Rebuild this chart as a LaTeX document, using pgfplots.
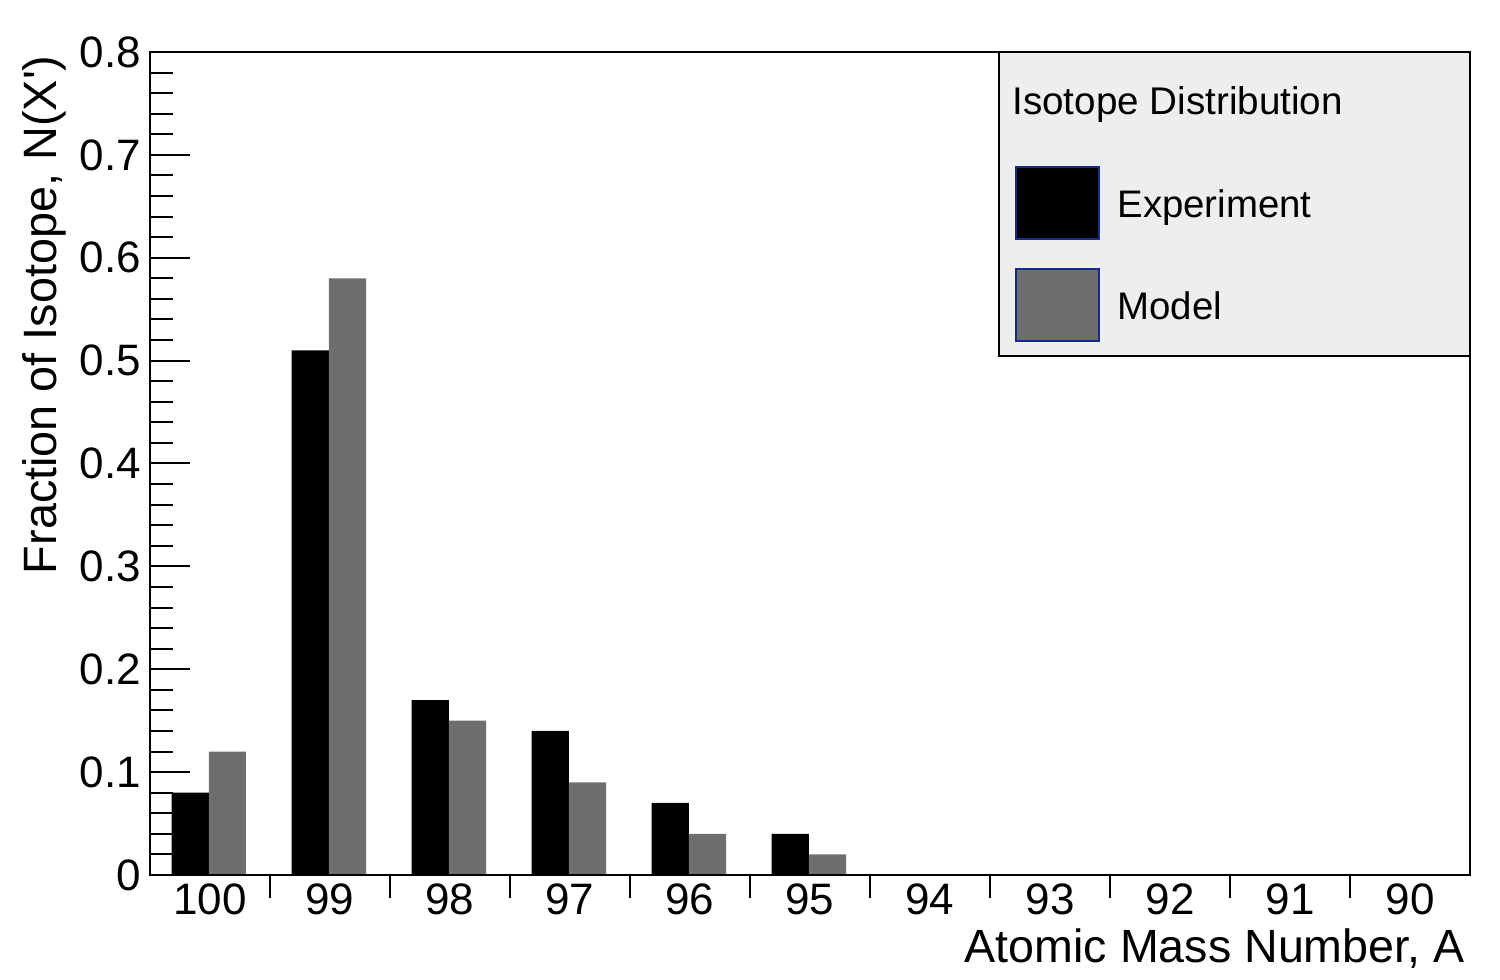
\documentclass[border=0pt]{standalone}
\usepackage{fontspec}
\setmainfont{Liberation Sans}
\usepackage{pgfplots}
\pgfplotsset{compat=1.18}
\definecolor{modelgray}{HTML}{6E6E6E}
\definecolor{leggray}{HTML}{EEEEEE}
\definecolor{legblue}{HTML}{1A2A8C}
\begin{document}
\begin{tikzpicture}
\path[use as bounding box] (-75pt,-52.5pt) rectangle (675pt,437.5pt);
\begin{axis}[
  at={(0pt,0pt)}, anchor=south west,
  scale only axis, width=660pt, height=411.5pt,
  xmin=0, xmax=11, ymin=0, ymax=0.8,
  axis on top,
  axis line style={line width=1pt},
  tick style={line width=1pt, black},
  tick align=inside, tick pos=left,
  xtick={0.5,1.5,2.5,3.5,4.5,5.5,6.5,7.5,8.5,9.5,10.5},
  xticklabels={100,99,98,97,96,95,94,93,92,91,90},
  minor x tick num=1,
  major x tick style={draw=none},
  ytick={0,0.1,0.2,0.3,0.4,0.5,0.6,0.7,0.8},
  yticklabels={0,0.1,0.2,0.3,0.4,0.5,0.6,0.7,0.8},
  minor y tick num=4,
  major tick length=20pt, minor tick length=11.5pt,
  /pgf/number format/assume math mode=true,
  ticklabel style={font=\fontsize{22}{26}\selectfont},
  xticklabel style={yshift=19pt},
  yticklabel style={xshift=-1pt},
  ybar, bar shift=0pt, bar width=0.31,
]
\addplot[fill=black, draw=none] coordinates {
  (0.335,0.08) (1.335,0.51) (2.335,0.17) (3.335,0.14) (4.335,0.07) (5.335,0.04)
};
\addplot[fill=modelgray, draw=none] coordinates {
  (0.645,0.12) (1.645,0.58) (2.645,0.15) (3.645,0.09) (4.645,0.04) (5.645,0.02)
};
\end{axis}
% axis titles
\node[anchor=base east, inner sep=0pt, font=\fontsize{23.3}{27}\selectfont] at (657.5pt,-43.5pt) {Atomic Mass Number, A};
\node[rotate=90, anchor=base east, inner sep=0pt, font=\fontsize{23.4}{27}\selectfont] at (-46.5pt,410pt) {Fraction of Isotope, N(X\textquotesingle)};
% legend
\filldraw[fill=leggray, draw=black, line width=0.8pt] (424.5pt,259.5pt) rectangle (660pt,411.5pt);
\node[anchor=base west, inner sep=0pt, font=\fontsize{19.3}{23}\selectfont] at (431pt,380pt) {Isotope Distribution};
\filldraw[fill=black, draw=legblue, line width=0.8pt] (433pt,318pt) rectangle (474.5pt,354pt);
\filldraw[fill=modelgray, draw=legblue, line width=0.8pt] (433pt,267pt) rectangle (474.5pt,303pt);
\node[anchor=base west, inner sep=0pt, font=\fontsize{19.2}{23}\selectfont] at (483.5pt,328.5pt) {Experiment};
\node[anchor=base west, inner sep=0pt, font=\fontsize{19.2}{23}\selectfont] at (483.5pt,277.5pt) {Model};
\end{tikzpicture}
\end{document}
